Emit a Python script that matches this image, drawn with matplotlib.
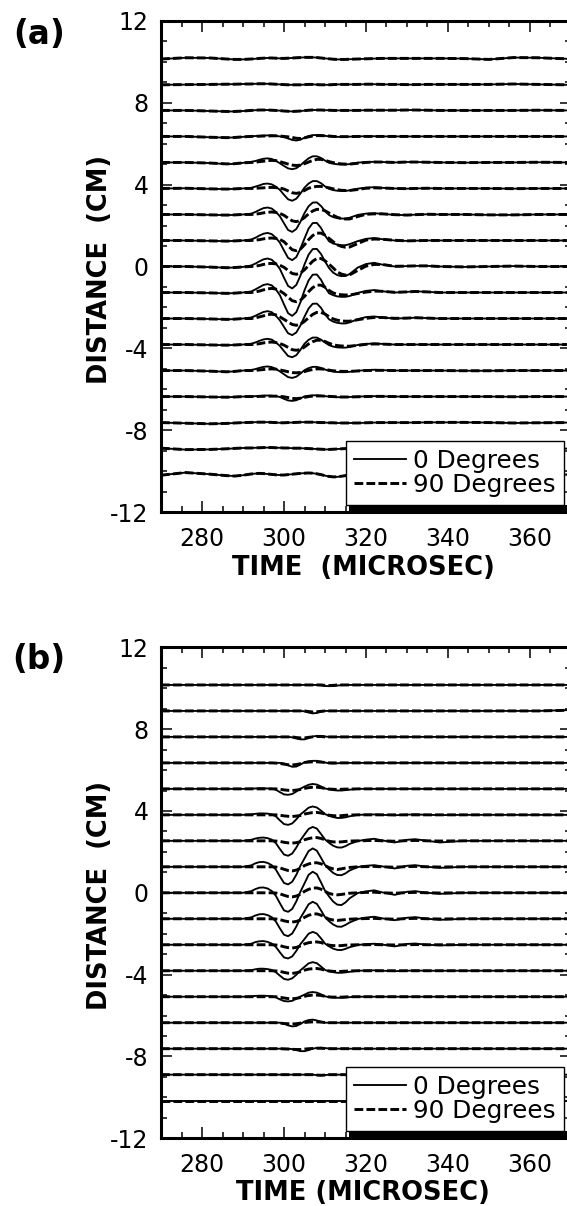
import numpy as np
import matplotlib.pyplot as plt
from matplotlib.patches import Rectangle
from matplotlib.ticker import MultipleLocator

plt.rcParams['font.family'] = 'DejaVu Sans'
plt.rcParams['axes.unicode_minus'] = False

# time samples (microsec) shared by every trace
time = [270, 276, 282, 286, 288, 290,
        292, 293, 294, 295, 296, 297, 298, 299, 300, 301, 302, 303, 304,
        305, 306, 307, 308, 309, 310, 311, 312, 313, 314, 315, 316,
        318, 320, 322, 324, 327, 330, 332, 335, 338, 344, 350, 356, 362, 369]

# receiver positions (cm), top trace first
distance = [10.16, 8.89, 7.62, 6.35, 5.08, 3.81, 2.54, 1.27, 0.0,
            -1.27, -2.54, -3.81, -5.08, -6.35, -7.62, -8.89, -10.16]

# trace deflections (cm), one row per position
# panel (a), 0 degrees
a_0deg = [
    [-0.03, 0.03, 0.02, -0.03, -0.05, -0.05,
     -0.03, -0.02, 0, 0.01, 0.02, 0.02, 0.01, 0, 0, 0.01, 0.02, 0.03, 0.04, 0.05, 0.05, 0.05, 0.04, 0.02, 0, -0.02, -0.04, -0.05, -0.05, -0.05, -0.04,
     -0.03, -0.02, -0.01, 0, 0, 0, 0, 0, 0, -0.01, -0.05, 0.04, 0.03, -0.02],
    [-0.02, -0.01, 0, 0.01, 0.01, 0.02,
     0.02, 0.03, 0.03, 0.03, 0.03, 0.02, 0.01, 0, -0.01, -0.02, -0.02, -0.02, -0.02, -0.01, 0, 0, -0.01, -0.02, -0.02, -0.02, -0.01, 0, 0, 0, 0,
     0, 0.01, 0.01, 0, 0, -0.01, -0.01, 0, 0, 0, 0, 0.02, 0, -0.02],
    [0, 0, -0.03, -0.05, -0.05, -0.03,
     0, 0.01, 0.02, 0.02, 0.02, 0.01, 0, -0.01, -0.03, -0.04, -0.05, -0.04, -0.03, -0.01, 0.01, 0.02, 0.02, 0.02, 0.01, 0.01, 0, 0, 0, 0, 0,
     0, 0.01, 0.01, 0.01, 0.01, 0.02, 0.02, 0.01, 0, 0, 0, 0, 0.01, 0],
    [0, 0, -0.04, -0.06, -0.05, -0.02,
     0.01, 0.02, 0.03, 0.04, 0.05, 0.05, 0.03, 0, -0.04, -0.1, -0.17, -0.2, -0.16, -0.06, 0.02, 0.06, 0.07, 0.06, 0.03, 0, -0.01, -0.02, -0.02, -0.02, -0.01,
     0, 0.01, 0.01, 0, 0, 0, 0, 0, 0, 0, 0, 0, 0, 0],
    [0, 0, -0.03, -0.08, -0.07, -0.02,
     0.03, 0.07, 0.13, 0.18, 0.2, 0.17, 0.08, -0.04, -0.17, -0.29, -0.33, -0.28, -0.14, 0.04, 0.2, 0.3, 0.3, 0.22, 0.09, -0.02, -0.06, -0.09, -0.1, -0.1, -0.08,
     -0.01, 0.02, 0.03, 0.02, 0, 0.02, 0.02, 0.01, 0, -0.01, 0, 0, 0.01, 0],
    [0, 0.01, -0.02, -0.03, -0.02, 0,
     0.03, 0.09, 0.15, 0.22, 0.24, 0.2, 0.09, -0.07, -0.31, -0.53, -0.6, -0.5, -0.25, 0.04, 0.24, 0.36, 0.36, 0.26, 0.1, -0.02, -0.08, -0.11, -0.12, -0.12, -0.09,
     -0.01, 0.04, 0.06, 0.03, 0, -0.01, 0, 0.01, 0, 0, 0, -0.01, 0, 0],
    [0, 0, -0.02, -0.03, -0.02, 0,
     0.04, 0.12, 0.22, 0.31, 0.34, 0.29, 0.13, -0.09, -0.43, -0.76, -0.85, -0.71, -0.36, 0.07, 0.4, 0.58, 0.59, 0.42, 0.17, -0.03, -0.13, -0.18, -0.2, -0.2, -0.16,
     -0.02, 0.04, 0.06, 0.03, -0.02, -0.03, -0.01, 0.01, 0, 0, -0.02, -0.02, 0, 0],
    [0, 0, -0.02, -0.03, -0.02, 0,
     0.05, 0.13, 0.24, 0.33, 0.37, 0.31, 0.14, -0.11, -0.49, -0.85, -0.96, -0.81, -0.4, 0.1, 0.58, 0.85, 0.86, 0.62, 0.25, -0.04, -0.15, -0.2, -0.23, -0.23, -0.18,
     -0.03, 0.08, 0.12, 0.06, 0, -0.02, -0.01, 0, 0, 0, 0, 0, 0, 0],
    [0, 0, -0.03, -0.06, -0.05, -0.02,
     0.05, 0.14, 0.25, 0.35, 0.39, 0.33, 0.15, -0.12, -0.55, -0.95, -1.07, -0.9, -0.45, 0.1, 0.58, 0.85, 0.86, 0.62, 0.25, -0.08, -0.3, -0.42, -0.47, -0.46, -0.37,
     -0.05, 0.12, 0.18, 0.09, 0, 0.02, 0.03, 0.03, 0, -0.02, 0, 0.02, 0, 0],
    [0, 0, -0.02, -0.04, -0.03, 0,
     0.05, 0.15, 0.26, 0.37, 0.41, 0.35, 0.16, -0.13, -0.58, -1.01, -1.14, -0.96, -0.48, 0.11, 0.59, 0.87, 0.88, 0.63, 0.26, -0.04, -0.13, -0.19, -0.21, -0.21, -0.17,
     -0.02, 0.08, 0.12, 0.06, 0, 0.03, 0.06, 0.03, 0, 0, 0, 0, 0, 0],
    [0, 0, -0.02, -0.04, -0.03, 0,
     0.05, 0.13, 0.23, 0.32, 0.36, 0.31, 0.14, -0.09, -0.41, -0.72, -0.81, -0.68, -0.34, 0.09, 0.49, 0.72, 0.73, 0.53, 0.21, -0.04, -0.15, -0.21, -0.24, -0.24, -0.19,
     -0.03, 0.07, 0.1, 0.05, 0, 0.02, 0.04, 0.02, 0, 0, 0, 0, 0, 0],
    [0, 0, -0.02, -0.03, -0.02, 0,
     0.04, 0.1, 0.18, 0.25, 0.28, 0.24, 0.11, -0.07, -0.32, -0.56, -0.62, -0.52, -0.26, 0.04, 0.23, 0.34, 0.34, 0.24, 0.1, -0.03, -0.1, -0.14, -0.15, -0.15, -0.12,
     -0.02, 0.03, 0.05, 0.03, 0, 0, 0, 0, 0, 0, 0, 0, 0, 0],
    [0, 0, -0.03, -0.06, -0.04, 0,
     0.03, 0.07, 0.13, 0.18, 0.2, 0.17, 0.08, -0.04, -0.18, -0.32, -0.36, -0.3, -0.15, 0.02, 0.12, 0.18, 0.18, 0.13, 0.05, -0.01, -0.05, -0.07, -0.08, -0.08, -0.06,
     -0.01, 0.02, 0.04, 0.02, 0, 0, 0, 0, 0, -0.01, -0.01, 0, 0, 0],
    [0, 0, -0.02, -0.03, -0.02, 0,
     0.01, 0.02, 0.03, 0.05, 0.05, 0.04, 0.02, -0.02, -0.11, -0.19, -0.21, -0.18, -0.09, 0.01, 0.04, 0.06, 0.06, 0.04, 0.02, 0, -0.02, -0.03, -0.03, -0.03, -0.02,
     0, 0.01, 0.02, 0.01, 0, 0, 0, 0, 0, 0, 0, -0.01, 0, 0],
    [0, -0.03, -0.06, -0.04, -0.02, 0,
     0.01, 0.02, 0.02, 0.02, 0.02, 0.01, 0, -0.01, -0.01, 0, 0, 0.01, 0.02, 0.02, 0.02, 0.02, 0.01, 0, 0, -0.01, -0.01, -0.02, -0.02, -0.02, -0.02,
     -0.02, -0.01, 0, 0, 0, 0, 0, 0.01, 0.01, 0.01, 0, -0.02, -0.01, 0],
    [0.02, -0.05, -0.04, -0.01, 0.01, 0.03,
     0.03, 0.04, 0.04, 0.05, 0.05, 0.05, 0.04, 0.04, 0.03, 0.03, 0.02, 0.02, 0.02, 0.01, 0, -0.01, -0.02, -0.03, -0.04, -0.04, -0.03, -0.02, -0.01, 0, 0,
     0, 0, 0, 0, 0, 0, 0, 0, 0, 0, 0, 0, 0, 0],
    [-0.03, 0.1, 0.02, -0.05, -0.07, -0.03,
     0.03, 0.05, 0.06, 0.05, 0.03, 0.01, -0.01, -0.02, -0.02, 0, 0.02, 0.04, 0.06, 0.07, 0.08, 0.07, 0.04, 0, -0.05, -0.09, -0.11, -0.11, -0.08, -0.05, -0.02,
     0, 0.02, 0, 0, 0, 0, 0, 0, 0, 0, 0, 0, 0, 0],
]

# panel (a), 90 degrees
a_90deg = [
    a_0deg[0],
    a_0deg[1],
    a_0deg[2],
    [0, 0, -0.04, -0.06, -0.05, -0.02,
     0, 0.01, 0.01, 0.02, 0.02, 0.03, 0.03, 0.02, 0, -0.02, -0.05, -0.09, -0.1, -0.07, -0.02, 0.02, 0.04, 0.04, 0.03, 0.02, 0, -0.01, -0.01, -0.01, -0.01,
     0, 0, 0, 0, 0, 0, 0, 0, 0, 0, 0, 0, 0, 0],
    [0, 0, -0.03, -0.07, -0.06, -0.02,
     0, 0.01, 0.04, 0.06, 0.09, 0.1, 0.09, 0.04, -0.02, -0.08, -0.13, -0.15, -0.13, -0.06, 0.02, 0.1, 0.15, 0.15, 0.11, 0.04, -0.01, -0.05, -0.07, -0.08, -0.08,
     -0.04, 0, 0.02, 0.02, 0, 0.02, 0.02, 0.01, 0, -0.01, 0, 0, 0.01, 0],
    [0, 0.01, -0.02, -0.03, -0.02, 0,
     0, 0.01, 0.02, 0.03, 0.05, 0.05, 0.04, 0.02, -0.03, -0.12, -0.21, -0.24, -0.2, -0.1, 0.01, 0.07, 0.1, 0.1, 0.07, 0.03, -0.02, -0.06, -0.09, -0.1, -0.1,
     -0.05, 0.01, 0.03, 0.02, 0, -0.01, 0, 0.01, 0, 0, 0, -0.01, 0, 0],
    [0, 0, -0.02, -0.03, -0.02, 0,
     0, 0.02, 0.04, 0.08, 0.11, 0.12, 0.1, 0.05, -0.04, -0.18, -0.31, -0.35, -0.29, -0.15, 0.03, 0.17, 0.25, 0.25, 0.18, 0.07, -0.04, -0.14, -0.2, -0.22, -0.22,
     -0.1, 0.01, 0.03, 0.03, -0.01, -0.03, -0.01, 0.01, 0, 0, -0.02, -0.02, 0, 0],
    [0, 0, -0.02, -0.03, -0.02, 0,
     0, 0.02, 0.04, 0.08, 0.11, 0.12, 0.1, 0.05, -0.06, -0.26, -0.45, -0.5, -0.42, -0.21, 0.04, 0.24, 0.36, 0.36, 0.26, 0.1, -0.06, -0.21, -0.29, -0.33, -0.32,
     -0.15, 0.02, 0.07, 0.06, 0.01, -0.02, -0.01, 0, 0, 0, 0, 0, 0, 0],
    [0, 0, -0.03, -0.06, -0.05, -0.02,
     0, 0.02, 0.05, 0.1, 0.14, 0.15, 0.13, 0.06, -0.04, -0.19, -0.34, -0.38, -0.32, -0.16, 0.05, 0.26, 0.39, 0.39, 0.28, 0.11, -0.07, -0.27, -0.37, -0.42, -0.41,
     -0.19, 0.02, 0.1, 0.1, 0.01, 0.02, 0.03, 0.03, 0, -0.02, 0, 0.02, 0, 0],
    [0, 0, -0.02, -0.04, -0.03, 0,
     0, 0.03, 0.07, 0.13, 0.18, 0.2, 0.17, 0.08, -0.05, -0.23, -0.4, -0.45, -0.38, -0.19, 0.04, 0.24, 0.36, 0.36, 0.26, 0.1, -0.02, -0.08, -0.11, -0.12, -0.12,
     -0.05, 0.02, 0.07, 0.06, 0.01, 0.03, 0.05, 0.03, 0, 0, 0, 0, 0, 0],
    [0, 0, -0.02, -0.04, -0.03, 0,
     0, 0.03, 0.08, 0.13, 0.19, 0.21, 0.18, 0.08, -0.04, -0.17, -0.29, -0.33, -0.28, -0.14, 0.04, 0.2, 0.3, 0.3, 0.22, 0.09, -0.02, -0.08, -0.12, -0.13, -0.13,
     -0.06, 0.01, 0.05, 0.05, 0.01, 0.02, 0.04, 0.02, 0, 0, 0, 0, 0, 0],
    [0, 0, -0.02, -0.03, -0.02, 0,
     0, 0.02, 0.04, 0.08, 0.11, 0.12, 0.1, 0.05, -0.03, -0.14, -0.25, -0.28, -0.24, -0.12, 0.03, 0.14, 0.21, 0.21, 0.15, 0.06, -0.01, -0.05, -0.07, -0.08, -0.08,
     -0.04, 0.01, 0.03, 0.02, 0, 0, 0, 0, 0, 0, 0, 0, 0, 0],
    [0, 0, -0.03, -0.06, -0.04, 0,
     0, 0.01, 0.03, 0.05, 0.07, 0.08, 0.07, 0.03, -0.01, -0.06, -0.1, -0.11, -0.09, -0.05, 0.01, 0.05, 0.08, 0.08, 0.06, 0.02, -0.01, -0.03, -0.04, -0.04, -0.04,
     -0.02, 0, 0.01, 0.01, 0, 0, 0, 0, 0, -0.01, -0.01, 0, 0, 0],
    [0, 0, -0.02, -0.03, -0.02, 0,
     0, 0, 0.01, 0.01, 0.02, 0.02, 0.02, 0.01, -0.01, -0.05, -0.09, -0.1, -0.08, -0.04, 0, 0.02, 0.03, 0.03, 0.02, 0.01, 0, -0.01, -0.02, -0.02, -0.02,
     -0.01, 0, 0.01, 0.01, 0, 0, 0, 0, 0, 0, 0, -0.01, 0, 0],
    a_0deg[14],
    a_0deg[15],
    a_0deg[16],
]

# panel (b), 0 degrees
b_0deg = [
    [0, 0, 0, 0, 0, 0,
     0, 0, 0, 0, 0, 0, 0, 0, 0, 0, 0, 0, 0, 0, 0, 0, 0, -0.02, -0.05, -0.06, -0.05, -0.03, -0.01, 0, 0,
     0, 0, 0, 0, 0, 0, 0, 0, 0, 0, 0, 0, 0, 0],
    [0, 0, 0, 0, 0, 0,
     0, 0, 0, 0, 0, 0, 0, 0, 0, 0, 0, 0, 0, -0.02, -0.08, -0.12, -0.1, -0.04, 0, 0, 0, 0, 0, 0, 0,
     0, 0, 0, 0, 0, 0, 0, 0, 0, 0, 0, 0, 0, 0.04],
    [0, 0, 0, 0, 0, 0,
     0, 0, 0, 0, 0, 0, 0, 0, 0, 0, -0.02, -0.08, -0.12, -0.12, -0.06, 0.02, 0.05, 0.05, 0.02, 0, 0, 0, 0, 0, 0,
     0, 0, 0, 0, 0, 0, 0, 0, 0, 0, 0, 0, 0, 0],
    [0, 0, 0, 0, 0, 0,
     0, 0, 0, 0, 0, 0, 0, 0, -0.03, -0.12, -0.19, -0.18, -0.08, 0.03, 0.08, 0.1, 0.1, 0.06, 0.02, -0.02, -0.03, -0.02, 0, 0, 0,
     0, 0, 0, 0, 0, 0, 0, 0, 0, 0, 0, 0, 0, 0],
    [0, 0, 0, 0, 0, 0,
     0.01, 0.02, 0.03, 0.03, 0.02, 0.01, -0.04, -0.16, -0.27, -0.29, -0.25, -0.13, 0.01, 0.11, 0.2, 0.24, 0.21, 0.12, 0.02, -0.02, -0.06, -0.08, -0.08, -0.06, -0.04,
     0, 0, 0, 0, 0, 0, 0, 0, 0, 0, 0, 0, 0, 0],
    [0, 0, 0, 0, 0, 0,
     0.02, 0.05, 0.07, 0.07, 0.06, 0.02, -0.07, -0.27, -0.45, -0.49, -0.42, -0.22, 0.02, 0.18, 0.35, 0.41, 0.36, 0.21, 0.04, -0.05, -0.11, -0.15, -0.15, -0.12, -0.07,
     0, 0.01, 0.02, 0, -0.02, 0.01, 0.02, 0, -0.01, 0, 0, 0, 0, 0],
    [0, 0, 0, 0, 0, 0,
     0.05, 0.11, 0.15, 0.16, 0.13, 0.06, -0.11, -0.4, -0.67, -0.73, -0.62, -0.33, 0.03, 0.31, 0.58, 0.68, 0.6, 0.34, 0.07, -0.1, -0.24, -0.32, -0.33, -0.26, -0.15,
     -0.01, 0.06, 0.1, 0.02, -0.08, 0.05, 0.08, 0, -0.08, 0, 0, 0, 0, 0],
    [0, 0, 0, 0, 0, 0,
     0.07, 0.17, 0.23, 0.24, 0.19, 0.08, -0.13, -0.47, -0.79, -0.86, -0.73, -0.39, 0.05, 0.41, 0.77, 0.9, 0.79, 0.45, 0.09, -0.12, -0.3, -0.4, -0.41, -0.32, -0.18,
     -0.01, 0.05, 0.08, 0.02, -0.08, 0.05, 0.08, 0, -0.05, 0, 0, 0, 0, 0],
    [0, 0, 0, 0, 0, 0,
     0.08, 0.18, 0.25, 0.26, 0.21, 0.09, -0.14, -0.51, -0.86, -0.93, -0.79, -0.42, 0.05, 0.46, 0.88, 1.03, 0.91, 0.52, 0.1, -0.18, -0.43, -0.58, -0.6, -0.47, -0.27,
     -0.01, 0.07, 0.12, 0.02, -0.1, 0.05, 0.08, 0, -0.05, 0, 0, 0, 0, 0],
    [0, 0, 0, 0, 0, 0,
     0.07, 0.16, 0.22, 0.23, 0.18, 0.08, -0.13, -0.47, -0.78, -0.85, -0.72, -0.38, 0.04, 0.37, 0.71, 0.83, 0.73, 0.42, 0.08, -0.12, -0.28, -0.38, -0.39, -0.3, -0.18,
     -0.01, 0.06, 0.1, 0.02, -0.07, 0.05, 0.08, 0, -0.05, 0, 0, 0, 0, 0],
    [0, 0, 0, 0, 0, 0,
     0.05, 0.13, 0.17, 0.18, 0.14, 0.06, -0.1, -0.37, -0.62, -0.67, -0.57, -0.3, 0.03, 0.28, 0.54, 0.63, 0.55, 0.32, 0.06, -0.08, -0.19, -0.25, -0.26, -0.2, -0.12,
     -0.01, 0.03, 0.05, 0.01, -0.08, 0.04, 0.06, 0, -0.03, 0, 0, 0, 0, 0],
    [0, 0, 0, 0, 0, 0,
     0.03, 0.07, 0.1, 0.1, 0.08, 0.04, -0.07, -0.24, -0.4, -0.44, -0.37, -0.2, 0.02, 0.19, 0.36, 0.42, 0.37, 0.21, 0.04, -0.03, -0.07, -0.1, -0.1, -0.08, -0.05,
     0, 0.01, 0.02, 0, -0.02, 0, 0.01, 0, 0, 0, 0, 0, 0, 0],
    [0, 0, 0, 0, 0, 0,
     0.02, 0.04, 0.05, 0.05, 0.04, 0.02, -0.03, -0.13, -0.21, -0.23, -0.2, -0.1, 0.01, 0.1, 0.2, 0.23, 0.2, 0.12, 0.02, -0.02, -0.04, -0.05, -0.05, -0.04, -0.02,
     0, 0, 0, 0, 0, 0, 0, 0, 0, 0, 0, 0, 0, 0],
    [0, 0, 0, 0, 0, 0,
     0, 0, 0, 0, 0, 0, 0, 0, -0.05, -0.13, -0.18, -0.16, -0.06, 0.06, 0.13, 0.15, 0.11, 0.05, 0, 0, 0, 0, 0, 0, 0,
     0, 0, 0, 0, 0, 0, 0, 0, 0, 0, 0, 0, 0, 0],
    [0, 0, 0, 0, 0, 0,
     0, 0, 0, 0, 0, 0, 0, 0, 0, 0, -0.02, -0.07, -0.12, -0.12, -0.07, 0, 0.04, 0.05, 0.03, 0.01, 0, 0, 0, 0, 0,
     0, 0, 0, 0, 0, 0, 0, 0, 0, 0, 0, 0, 0, 0],
    [0, 0, 0, 0, 0, 0,
     0, 0, 0, 0, 0, 0, 0, 0, 0, 0, 0, 0, 0, 0, 0, 0, -0.02, -0.03, -0.02, 0, 0, 0, 0, 0, 0,
     0, 0, 0, 0, 0, 0, 0, 0, 0, 0, 0, 0, 0, 0],
    [0, 0, 0, 0, 0, 0,
     0, 0, 0, 0, 0, 0, 0, 0, 0, 0, 0, 0, 0, 0, 0, 0, 0, 0, 0, 0, 0, 0, 0, 0, 0,
     0, 0, 0, 0, 0, 0, 0, 0, 0, 0, 0, 0, 0, 0],
]

# panel (b), 90 degrees
b_90deg = [
    [0, 0, 0, 0, 0, 0,
     0, 0, 0, 0, 0, 0, 0, 0, 0, 0, 0, 0, 0, 0, 0, 0, 0, 0, -0.02, -0.03, -0.02, 0, 0, 0, 0,
     0, 0, 0, 0, 0, 0, 0, 0, 0, 0, 0, 0, 0, 0],
    [0, 0, 0, 0, 0, 0,
     0, 0, 0, 0, 0, 0, 0, 0, 0, 0, 0, 0, 0, 0, -0.03, -0.05, -0.04, -0.02, 0, 0, 0, 0, 0, 0, 0,
     0, 0, 0, 0, 0, 0, 0, 0, 0, 0, 0, 0, 0, 0.03],
    [0, 0, 0, 0, 0, 0,
     0, 0, 0, 0, 0, 0, 0, 0, 0, 0, 0, -0.03, -0.05, -0.05, -0.02, 0, 0.02, 0.02, 0, 0, 0, 0, 0, 0, 0,
     0, 0, 0, 0, 0, 0, 0, 0, 0, 0, 0, 0, 0, 0],
    [0, 0, 0, 0, 0, 0,
     0, 0, 0, 0, 0, 0, -0.01, -0.03, -0.06, -0.09, -0.1, -0.08, -0.04, 0.02, 0.04, 0.05, 0.05, 0.04, 0.02, 0, 0, 0, 0, 0, 0,
     0, 0, 0, 0, 0, 0, 0, 0, 0, 0, 0, 0, 0, 0],
    [0, 0, 0, 0, 0, 0,
     0, 0, 0, 0, 0, 0, 0, -0.02, -0.05, -0.07, -0.08, -0.06, -0.03, 0.02, 0.06, 0.08, 0.08, 0.06, 0.02, -0.01, -0.02, -0.03, -0.02, -0.01, -0.01,
     0, 0, 0, 0, 0, 0, 0, 0, 0, 0, 0, 0, 0, 0],
    [0, 0, 0, 0, 0, 0,
     0, 0, 0, 0, 0, 0, 0, -0.02, -0.05, -0.07, -0.08, -0.06, -0.03, 0.04, 0.08, 0.11, 0.12, 0.09, 0.04, -0.02, -0.04, -0.05, -0.04, -0.02, -0.01,
     0, 0, 0, 0, 0, 0, 0, 0, 0, 0, 0, 0, 0, 0],
    [0, 0, 0, 0, 0, 0,
     0, 0, 0, 0, 0, 0, -0.01, -0.03, -0.07, -0.1, -0.11, -0.09, -0.04, 0.05, 0.11, 0.15, 0.16, 0.12, 0.05, -0.02, -0.05, -0.06, -0.05, -0.03, -0.01,
     0, 0.01, 0.02, 0, -0.02, 0.01, 0.02, 0, -0.01, 0, 0, 0, 0, 0],
    [0, 0, 0, 0, 0, 0,
     0, 0, 0, 0, 0, 0, -0.01, -0.05, -0.12, -0.18, -0.2, -0.16, -0.07, 0.06, 0.14, 0.19, 0.2, 0.15, 0.06, -0.04, -0.1, -0.13, -0.1, -0.06, -0.03,
     0, 0.01, 0.02, 0, -0.02, 0.01, 0.02, 0, -0.01, 0, 0, 0, 0, 0],
    [0, 0, 0, 0, 0, 0,
     0, 0, 0, 0, 0, 0, -0.01, -0.05, -0.12, -0.18, -0.2, -0.16, -0.07, 0.07, 0.17, 0.23, 0.24, 0.18, 0.07, -0.03, -0.08, -0.1, -0.08, -0.05, -0.02,
     0, 0.02, 0.03, 0, -0.02, 0.01, 0.02, 0, -0.01, 0, 0, 0, 0, 0],
    [0, 0, 0, 0, 0, 0,
     0, 0, 0, 0, 0, 0, -0.01, -0.04, -0.1, -0.14, -0.16, -0.13, -0.06, 0.07, 0.17, 0.23, 0.24, 0.18, 0.07, -0.02, -0.06, -0.08, -0.06, -0.04, -0.02,
     0, 0.01, 0.02, 0, -0.02, 0.01, 0.02, 0, -0.01, 0, 0, 0, 0, 0],
    [0, 0, 0, 0, 0, 0,
     0, 0, 0, 0, 0, 0, -0.01, -0.04, -0.1, -0.14, -0.16, -0.13, -0.06, 0.04, 0.1, 0.13, 0.14, 0.11, 0.04, -0.02, -0.04, -0.05, -0.04, -0.02, -0.01,
     0, 0, 0.01, 0, -0.01, 0, 0.01, 0, 0, 0, 0, 0, 0, 0],
    [0, 0, 0, 0, 0, 0,
     0, 0, 0, 0, 0, 0, -0.01, -0.03, -0.08, -0.12, -0.13, -0.1, -0.05, 0.03, 0.08, 0.1, 0.11, 0.08, 0.03, -0.01, -0.03, -0.04, -0.03, -0.02, -0.01,
     0, 0, 0, 0, 0, 0, 0, 0, 0, 0, 0, 0, 0, 0],
    [0, 0, 0, 0, 0, 0,
     0, 0, 0, 0, 0, 0, 0, -0.03, -0.06, -0.09, -0.1, -0.08, -0.04, 0.02, 0.06, 0.08, 0.08, 0.06, 0.02, -0.01, -0.02, -0.02, -0.02, -0.01, 0,
     0, 0, 0, 0, 0, 0, 0, 0, 0, 0, 0, 0, 0, 0],
    [0, 0, 0, 0, 0, 0,
     0, 0, 0, 0, 0, 0, 0, -0.02, -0.04, -0.05, -0.06, -0.05, -0.02, 0.01, 0.03, 0.04, 0.04, 0.03, 0.01, 0, 0, 0, 0, 0, 0,
     0, 0, 0, 0, 0, 0, 0, 0, 0, 0, 0, 0, 0, 0],
    [0, 0, 0, 0, 0, 0,
     0, 0, 0, 0, 0, 0, 0, 0, -0.01, -0.02, -0.03, -0.04, -0.04, -0.02, 0, 0.01, 0.02, 0.02, 0.01, 0, 0, 0, 0, 0, 0,
     0, 0, 0, 0, 0, 0, 0, 0, 0, 0, 0, 0, 0, 0],
    b_0deg[15],
    b_0deg[16],
]

labels = ['0 Degrees', '90 Degrees']

fig = plt.figure(figsize=(5.67, 12.06), dpi=100)
ax_a = fig.add_axes([161 / 567, 1 - 512.3 / 1206, 410 / 567, 491.6 / 1206])
ax_b = fig.add_axes([161 / 567, 1 - 1138.3 / 1206, 410 / 567, 491.0 / 1206])


def draw_panel(ax, solid, dashed, xlab, label_y):
    for d, s, q in zip(distance, solid, dashed):
        l0, = ax.plot(time, np.array(s) + d, color='k', lw=1.35,
                      solid_joinstyle='round')
        l1, = ax.plot(time, np.array(q) + d, color='k', lw=2.1,
                      dashes=(3.0, 1.1))
    ax.set_xlim(270, 370)
    ax.set_ylim(-12, 12)
    ax.set_xticks([280, 300, 320, 340, 360])
    ax.set_yticks([-12, -8, -4, 0, 4, 8, 12])
    ax.xaxis.set_minor_locator(MultipleLocator(5))
    ax.yaxis.set_minor_locator(MultipleLocator(1))
    ax.tick_params(which='both', direction='in', top=True, right=True, width=1.1)
    ax.tick_params(which='major', length=8, labelsize=17)
    ax.tick_params(which='minor', length=4.3)
    ax.tick_params(axis='x', pad=10.5)
    ax.tick_params(axis='y', pad=9)
    for sp in ax.spines.values():
        sp.set_linewidth(2.2)

    ax.set_xlabel(xlab, fontsize=18.5, fontweight='bold')
    ax.xaxis.label.set_va('center')
    ax.xaxis.set_label_coords(0.493, label_y)
    ax.set_ylabel('DISTANCE  (CM)', fontsize=18.5, fontweight='bold')
    ax.yaxis.label.set_va('center')
    ax.yaxis.set_label_coords(-0.149, 0.494)

    leg = ax.legend([l0, l1], labels, loc='lower left',
                    bbox_to_anchor=(0.451, 0.0149, 0.532, 0.14), mode='expand',
                    borderaxespad=0, fancybox=False, framealpha=1,
                    edgecolor='k', fontsize=17.8, handlelength=2.1,
                    handletextpad=0.3, labelspacing=0.0, borderpad=0.33)
    leg.get_frame().set_linewidth(1.0)
    ax.add_patch(Rectangle((0.4585, 0.0), 0.6, 0.0149, transform=ax.transAxes,
                           facecolor='k', edgecolor='none', zorder=4.9,
                           clip_on=False))


draw_panel(ax_a, a_0deg, a_90deg, 'TIME  (MICROSEC)', -0.113)
draw_panel(ax_b, b_0deg, b_90deg, 'TIME (MICROSEC)', -0.111)

fig.text(39 / 567, 1 - 34 / 1206, '(a)', fontsize=23.5, fontweight='bold',
         ha='center', va='center')
fig.text(39 / 567, 1 - 660 / 1206, '(b)', fontsize=23.5, fontweight='bold',
         ha='center', va='center')

fig.savefig('out.png', dpi=100)
